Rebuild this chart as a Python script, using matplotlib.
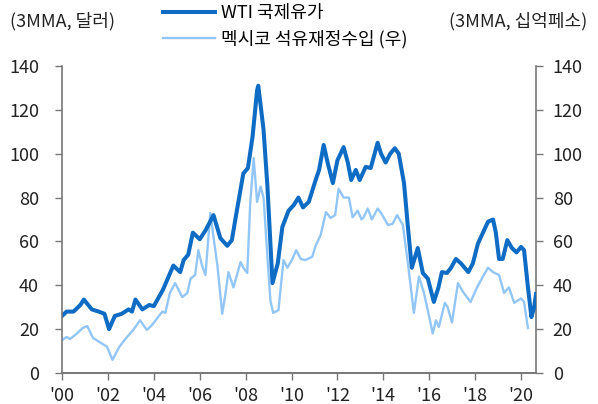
import matplotlib
matplotlib.use("Agg")
import matplotlib.pyplot as plt

plt.rcParams['font.family'] = ['Noto Sans CJK KR', 'DejaVu Sans']

# WTI 국제유가 (3MMA, 달러) - 시점(연도), 값
wti_t = [2000.0, 2000.2, 2000.5, 2000.8, 2000.95, 2001.3, 2001.6, 2001.85, 2002.05,
         2002.3, 2002.6, 2002.9, 2003.05, 2003.2, 2003.5, 2003.8, 2004.0, 2004.4,
         2004.85, 2005.15, 2005.3, 2005.5, 2005.7, 2006.0, 2006.25, 2006.6, 2006.9,
         2007.2, 2007.4, 2007.6, 2007.9, 2008.1, 2008.3, 2008.5, 2008.55, 2008.78,
         2008.95, 2009.17, 2009.4, 2009.6, 2009.87, 2010.1, 2010.3, 2010.5, 2010.75,
         2011.05, 2011.2, 2011.4, 2011.57, 2011.8, 2012.0, 2012.27, 2012.45, 2012.6,
         2012.8, 2012.97, 2013.23, 2013.45, 2013.75, 2013.9, 2014.1, 2014.3, 2014.5,
         2014.67, 2014.9, 2015.07, 2015.24, 2015.5, 2015.72, 2015.94, 2016.2, 2016.4,
         2016.55, 2016.77, 2016.95, 2017.16, 2017.38, 2017.7, 2017.9, 2018.12, 2018.34,
         2018.56, 2018.78, 2018.9, 2019.04, 2019.2, 2019.4, 2019.6, 2019.8, 2020.0,
         2020.13, 2020.3, 2020.45, 2020.57, 2020.65]
wti_v = [26, 28, 28, 31, 33.5, 29, 28, 27, 20,
         26, 27, 29, 28, 33.5, 29, 31, 30.5, 38,
         49, 46, 51.5, 54, 64, 61, 65, 72, 61.5,
         58, 60.6, 73, 91, 93.5, 107.6, 129, 131, 111,
         85, 41, 50, 66.6, 74, 76.6, 80, 75.5, 78,
         88, 92.6, 104, 96, 86.6, 97, 103, 96, 88,
         92.6, 88, 94, 93.5, 105, 100, 96, 100, 102.5,
         100, 86.6, 66.6, 48, 57, 45.6, 43, 32.4, 39,
         46, 45.6, 48, 52, 50, 46, 50, 59, 64,
         69, 70, 64, 52, 52, 60.6, 57, 55, 57.5,
         56, 39, 25.5, 30, 36]

# 멕시코 석유재정수입 (3MMA, 십억페소)
mex_t = [2000.0, 2000.2, 2000.35, 2000.65, 2000.9, 2001.1, 2001.35, 2001.65, 2001.96,
         2002.2, 2002.5, 2002.8, 2003.1, 2003.4, 2003.7, 2003.93, 2004.15, 2004.37,
         2004.5, 2004.7, 2004.93, 2005.24, 2005.46, 2005.6, 2005.8, 2005.94, 2006.1,
         2006.25, 2006.46, 2006.6, 2006.77, 2006.98, 2007.1, 2007.25, 2007.47, 2007.78,
         2007.9, 2008.07, 2008.2, 2008.35, 2008.5, 2008.65, 2008.78, 2008.95, 2009.08,
         2009.2, 2009.43, 2009.65, 2009.82, 2010.04, 2010.2, 2010.4, 2010.6, 2010.9,
         2011.05, 2011.27, 2011.5, 2011.7, 2011.9, 2012.05, 2012.27, 2012.5, 2012.66,
         2012.88, 2013.05, 2013.14, 2013.32, 2013.5, 2013.75, 2013.9, 2014.2, 2014.4,
         2014.6, 2014.85, 2015.07, 2015.33, 2015.55, 2015.77, 2016.0, 2016.15, 2016.29,
         2016.42, 2016.68, 2016.8, 2016.99, 2017.25, 2017.47, 2017.8, 2018.08, 2018.34,
         2018.56, 2018.78, 2019.04, 2019.26, 2019.47, 2019.7, 2020.0, 2020.13, 2020.3]
mex_v = [15, 16.4, 15.5, 18, 20.5, 21.4, 16, 14, 12,
         6, 12, 16, 19.6, 24, 19.6, 22, 25, 28,
         27.4, 36.5, 41, 34.6, 36.5, 43, 44.7, 56, 49,
         44.7, 73, 62, 49, 27, 34.6, 46, 39, 50.6,
         48, 45.6, 77.5, 98, 78, 85, 80, 53, 33,
         27.4, 28.7, 51.5, 48, 52, 56, 52, 51.5, 53,
         58, 63, 73.4, 70.7, 72, 84, 80, 80, 71,
         74, 70, 71, 75, 70, 75, 73, 67.5, 68,
         72, 67.5, 50, 27.4, 44, 36.5, 25.5, 18, 24,
         21, 32, 30, 23, 41, 37, 32.4, 39, 44,
         48, 46, 44.7, 36.5, 39, 32, 34, 32.4, 20.5]

year_ticks = [2000, 2002, 2004, 2006, 2008, 2010, 2012, 2014, 2016, 2018, 2020]
year_labels = ["'00", "'02", "'04", "'06", "'08", "'10", "'12", "'14", "'16", "'18", "'20"]
y_ticks = [0, 20, 40, 60, 80, 100, 120, 140]

dark = "#0E6CC4"
light = "#92C6F6"
axis_gray = "#777777"
text_color = "#222222"

fig = plt.figure(figsize=(5.98, 4.04), dpi=100)
ax = fig.add_axes([62 / 598, 1 - 373 / 404, 474 / 598, 307 / 404])
ax2 = ax.twinx()

l2, = ax2.plot(mex_t, mex_v, color=light, linewidth=1.7, solid_joinstyle="round",
               label="멕시코 석유재정수입 (우)")
l1, = ax.plot(wti_t, wti_v, color=dark, linewidth=2.9, solid_joinstyle="round",
              label="WTI 국제유가")
ax.set_zorder(ax2.get_zorder() + 1)
ax.patch.set_visible(False)

for a in (ax, ax2):
    a.set_xlim(2000, 2020.65)
    a.set_ylim(0, 140)
    a.set_yticks(y_ticks)
    a.tick_params(axis="both", labelsize=13, color=axis_gray, length=5,
                  labelcolor=text_color, width=1)
    a.spines["top"].set_visible(False)
    for side in ("left", "right", "bottom"):
        a.spines[side].set_color(axis_gray)
        a.spines[side].set_linewidth(1.2)

ax.tick_params(axis="y", pad=11.5)
ax2.tick_params(axis="y", pad=7)
ax.tick_params(axis="x", pad=5)
ax.set_xticks(year_ticks)
ax.set_xticklabels(year_labels)
ax2.spines["left"].set_visible(False)
ax.spines["right"].set_visible(False)

fig.text(10 / 598, 1 - 21 / 404, "(3MMA, 달러)", fontsize=13, va="center", ha="left",
         color=text_color)
fig.text(587 / 598, 1 - 21 / 404, "(3MMA, 십억페소)", fontsize=13, va="center", ha="right",
         color=text_color)

fig.legend(handles=[l1, l2], loc="upper left", bbox_to_anchor=(152 / 598, 1.017),
           frameon=False, fontsize=13, handlelength=2.9, handletextpad=0.3,
           labelspacing=0.42, borderaxespad=0.2)

fig.savefig("out.png", dpi=100)
